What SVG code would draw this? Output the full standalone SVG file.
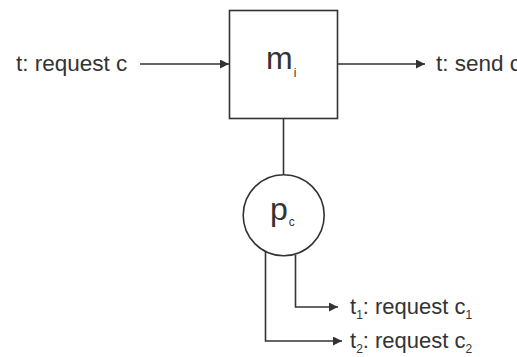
<svg xmlns="http://www.w3.org/2000/svg" width="517" height="357" viewBox="0 0 517 357">
  <defs>
    <marker id="arrow" viewBox="0 0 10 10" refX="10" refY="5" markerWidth="11" markerHeight="9" markerUnits="userSpaceOnUse" orient="auto">
      <path d="M0,0 L10,5 L0,10 Z" fill="#333"/>
    </marker>
  </defs>
  <style>
    .shape { fill: none; stroke: #333; stroke-width: 1.6; }
    .edge { fill: none; stroke: #333; stroke-width: 1.6; }
    .lbl { font-family: "Liberation Sans", Arial, sans-serif; font-size: 22.5px; fill: #333; }
    .lbl2 { font-family: "Liberation Sans", Arial, sans-serif; font-size: 22px; fill: #333; }
    .big { font-family: "Liberation Sans", Arial, sans-serif; font-size: 32px; fill: #333; }
    .sub { font-size: 12px; }
  </style>
  <rect width="517" height="357" fill="#fff"/>

  <g id="connectors">
    <line class="edge" x1="140" y1="64" x2="229" y2="64" marker-end="url(#arrow)"/>
    <line class="edge" x1="338" y1="64" x2="425" y2="64" marker-end="url(#arrow)"/>
    <line class="edge" x1="283.5" y1="119" x2="283.5" y2="174.5"/>
    <polyline class="edge" points="295.5,255 295.5,307 338,307" marker-end="url(#arrow)"/>
    <polyline class="edge" points="265.5,251 265.5,341 342,341" marker-end="url(#arrow)"/>
  </g>

  <g id="node-m">
    <rect class="shape" x="229.5" y="10.5" width="108" height="108"/>
    <text class="big" x="266" y="69">m<tspan class="sub" font-size="11" dx="1" dy="8">i</tspan></text>
  </g>

  <g id="node-p">
    <circle class="shape" cx="283.7" cy="215.3" r="40.5"/>
    <text class="big" x="270" y="220">p<tspan class="sub" font-size="13" dx="1" dy="6">c</tspan></text>
  </g>

  <g id="labels">
    <text class="lbl" x="16" y="71">t: request c</text>
    <text class="lbl" x="436" y="71">t: send c</text>
    <text class="lbl2" x="350" y="314">t<tspan class="sub" dy="5">1</tspan><tspan dy="-5">: request c</tspan><tspan class="sub" dy="5">1</tspan></text>
    <text class="lbl2" x="350" y="348">t<tspan class="sub" dy="5">2</tspan><tspan dy="-5">: request c</tspan><tspan class="sub" dy="5">2</tspan></text>
  </g>
</svg>
